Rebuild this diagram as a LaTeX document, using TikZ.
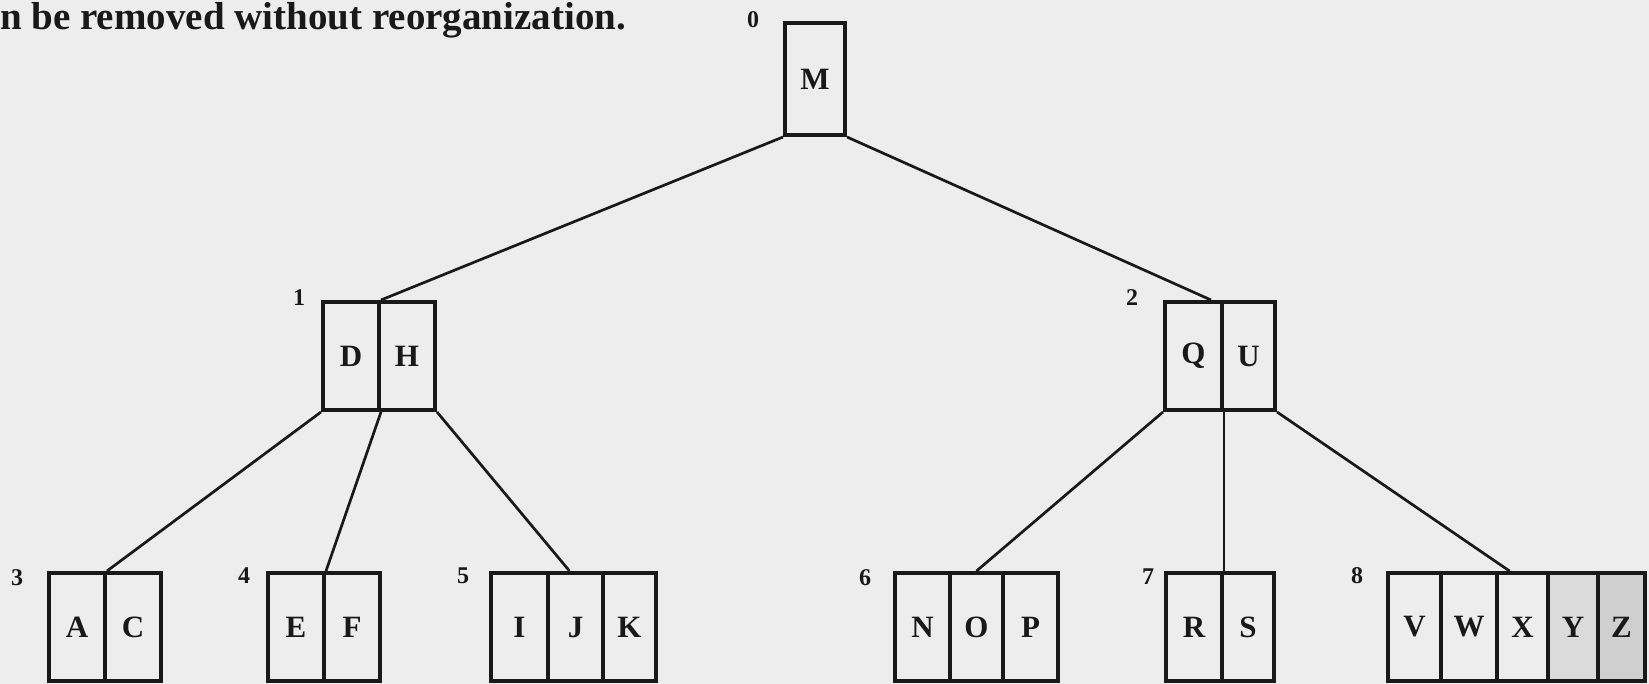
\documentclass[tikz,border=0pt]{standalone}
\usepackage{fontspec}
\setmainfont{Liberation Serif}
\definecolor{paper}{gray}{0.93}
\definecolor{ink}{gray}{0.1}
\definecolor{shadeY}{gray}{0.86}
\definecolor{shadeZ}{gray}{0.81}
\tikzset{
  cellbox/.style={draw=ink, line width=4pt, inner sep=0pt, minimum height=#1,
    font=\fontsize{31}{31}\selectfont\bfseries, text=ink},
  toprow/.style={cellbox=112pt},
  midrow/.style={cellbox=108pt},
  botrow/.style={cellbox=108pt},
  numlabel/.style={font=\fontsize{24}{24}\selectfont\bfseries, text=ink, inner sep=0pt},
  link/.style={draw=ink, line width=2.7pt},
}
\begin{document}
\begin{tikzpicture}[x=1pt,y=-1pt]
\fill[paper] (0,0) rectangle (1649,684);
\clip (0,0) rectangle (1649,684);
\useasboundingbox (0,0) rectangle (1649,684);
% caption fragment
\node[anchor=base west, inner sep=0pt, text=ink, font=\fontsize{39}{39}\selectfont\bfseries] (cap) at (0,30) {n be removed without reorganization.};
% level 0
\node[toprow, minimum width=60pt] (M) at (815,79) {M};
% level 1
\node[midrow, minimum width=56pt] (D) at (351,356) {D};
\node[midrow, minimum width=56pt] (H) at (407,356) {H};
\node[midrow, minimum width=57pt] (Q) at (1193.5,356) {Q};
\node[midrow, minimum width=53pt] (U) at (1248.5,356) {U};
% level 2
\node[botrow, minimum width=56pt] (A) at (77,627) {A};
\node[botrow, minimum width=56pt] (C) at (133,627) {C};
\node[botrow, minimum width=56pt] (E) at (296,627) {E};
\node[botrow, minimum width=56pt] (F) at (352,627) {F};
\node[botrow, minimum width=57pt] (I) at (519.5,627) {I};
\node[botrow, minimum width=55pt] (J) at (575.5,627) {J};
\node[botrow, minimum width=53pt] (K) at (629.5,627) {K};
\node[botrow, minimum width=55pt] (N) at (922.5,627) {N};
\node[botrow, minimum width=53pt] (O) at (976.5,627) {O};
\node[botrow, minimum width=55pt] (P) at (1030.5,627) {P};
\node[botrow, minimum width=56pt] (R) at (1194,627) {R};
\node[botrow, minimum width=52pt] (S) at (1248,627) {S};
\node[botrow, minimum width=53pt] (V) at (1414.5,627) {V};
\node[botrow, minimum width=56pt] (W) at (1469,627) {W};
\node[botrow, minimum width=51pt] (X) at (1522.5,627) {X};
\node[botrow, minimum width=50pt, fill=shadeY] (Y) at (1573,627) {Y};
\node[botrow, minimum width=47pt, fill=shadeZ] (Z) at (1621.5,627) {Z};
% node numbers
\node[numlabel] (n0) at (753,20) {0};
\node[numlabel] (n1) at (299,298) {1};
\node[numlabel] (n2) at (1132,298) {2};
\node[numlabel] (n3) at (17,578) {3};
\node[numlabel] (n4) at (244,576) {4};
\node[numlabel] (n5) at (463,576) {5};
\node[numlabel] (n6) at (865,578) {6};
\node[numlabel] (n7) at (1148,577) {7};
\node[numlabel] (n8) at (1357,576) {8};
% connectors
\draw[link] (M.south west) -- (D.north east);
\draw[link] (M.south east) -- ([xshift=-13pt]Q.north east);
\draw[link] (D.south west) -- (A.north east);
\draw[link] (D.south east) -- (E.north east);
\draw[link] (H.south east) -- ([xshift=-6pt]J.north);
\draw[link] (Q.south west) -- (O.north);
\draw[link] (Q.south east) -- (R.north east);
\draw[link] (U.south east) -- ([xshift=-13pt]X.north);
\end{tikzpicture}
\end{document}
